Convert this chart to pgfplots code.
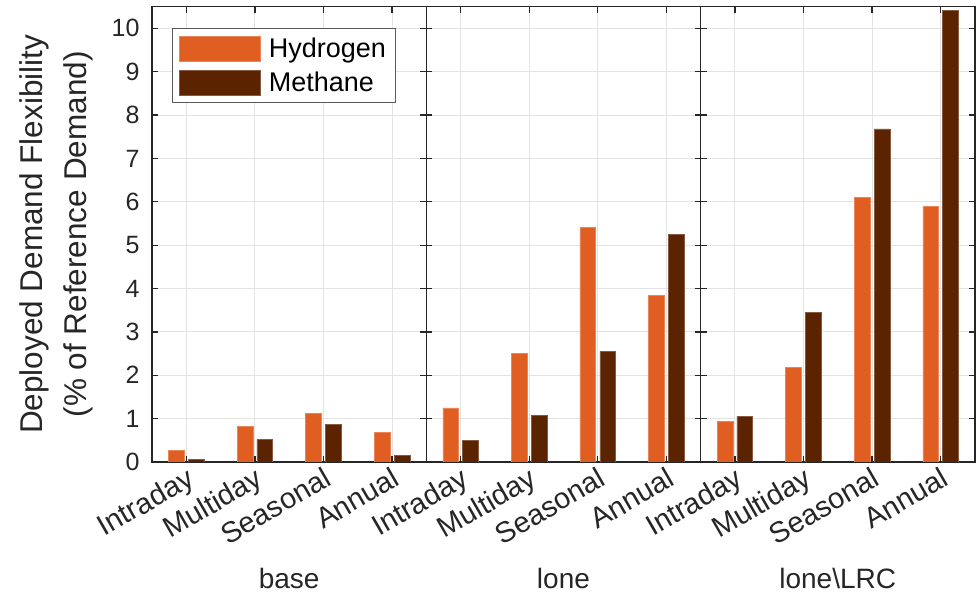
\documentclass[border=0pt]{standalone}
\usepackage{fontspec}
\setmainfont{Liberation Sans}
\usepackage{pgfplots}
\pgfplotsset{compat=1.18}
\definecolor{hyd}{RGB}{224,94,34}
\definecolor{met}{RGB}{92,35,0}
\definecolor{axc}{RGB}{38,38,38}

\pgfplotsset{
  panel/.style={
    scale only axis, width=274.3pt, height=455.3pt,
    xmin=0.5, xmax=4.5, ymin=0, ymax=10.5,
    xtick={1,2,3,4}, xticklabels={Intraday,Multiday,Seasonal,Annual},
    ytick={0,1,...,10},
    xtick pos=both, ytick pos=both,
    tick align=inside, major tick length=6pt,
    grid=major, major grid style={draw=black!11, line width=0.9pt},
    axis line style={draw=axc, line width=1.3pt},
    tick style={draw=axc, line width=1.3pt},
    xticklabel style={font=\fontsize{29}{33}\selectfont, text=axc, rotate=30, anchor=north east, inner sep=3pt},
    yticklabel style={font=\fontsize{25}{30}\selectfont, text=axc, xshift=-9pt},
    /pgf/number format/assume math mode=true,
    xlabel style={at={(axis description cs:0.5,0)}, anchor=base, yshift=-127pt,
      font=\fontsize{28}{32}\selectfont, text=axc},
  },
  hb/.style={ybar, fill=hyd, draw=hyd!75!white, line width=0.5pt, bar width=0.23, bar shift=-0.145},
  mb/.style={ybar, fill=met, draw=met!75!white, line width=0.5pt, bar width=0.23, bar shift=0.145},
}

\begin{document}
\begin{tikzpicture}
\path[use as bounding box] (-152pt,-131pt) rectangle (828pt,462pt);

\begin{axis}[panel, at={(0pt,0pt)}, anchor=south west,
  xlabel={base},
  ylabel={Deployed Demand Flexibility\\(\% of Reference Demand)},
  ylabel style={at={(axis description cs:0,0.5)}, anchor=south, yshift=59pt,
    align=center, inner sep=0pt, font=\fontsize{31.5}{44}\selectfont, text=axc},
  legend style={at={(0.0729,0.9528)}, anchor=north west, draw=black!65, line width=0.8pt,
    fill=white, inner xsep=7pt, inner ysep=7pt, row sep=9pt,
    font=\fontsize{27}{31}\selectfont, text=black,
    /tikz/every odd column/.append style={column sep=6pt}},
  legend cell align=left,
  legend image code/.code={\fill[#1] (0pt,-12.5pt) rectangle (81pt,12.5pt);},
]
\addplot[hb] coordinates {(1,0.27) (2,0.82) (3,1.12) (4,0.68)};
\addplot[mb] coordinates {(1,0.06) (2,0.52) (3,0.86) (4,0.15)};
\legend{Hydrogen,Methane}
\end{axis}

\begin{axis}[panel, at={(274.3pt,0pt)}, anchor=south west,
  xlabel={lone}, yticklabels={}]
\addplot[hb] coordinates {(1,1.25) (2,2.50) (3,5.41) (4,3.85)};
\addplot[mb] coordinates {(1,0.49) (2,1.07) (3,2.55) (4,5.25)};
\end{axis}

\begin{axis}[panel, at={(548.6pt,0pt)}, anchor=south west,
  xlabel={lone\textbackslash LRC}, yticklabels={}]
\addplot[hb] coordinates {(1,0.94) (2,2.18) (3,6.11) (4,5.89)};
\addplot[mb] coordinates {(1,1.05) (2,3.45) (3,7.68) (4,10.42)};
\end{axis}
\end{tikzpicture}
\end{document}
